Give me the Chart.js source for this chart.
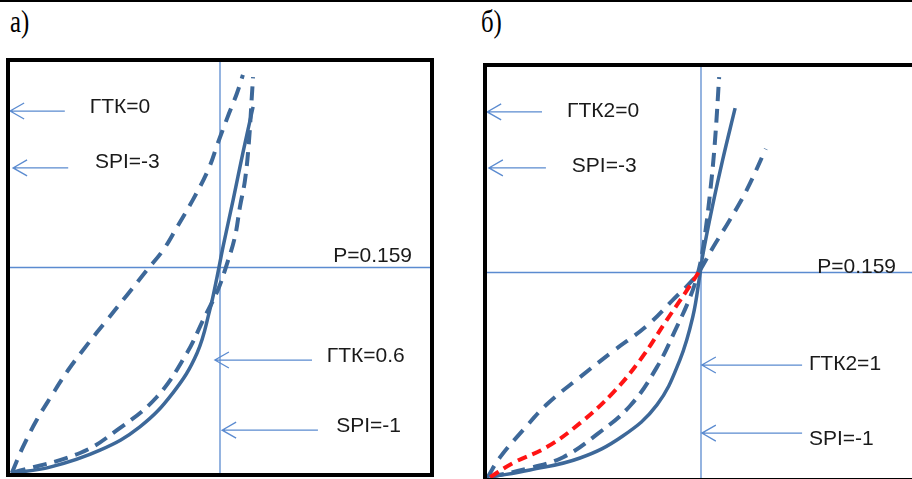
<!DOCTYPE html>
<html>
<head>
<meta charset="utf-8">
<script src="https://cdn.jsdelivr.net/npm/chart.js@4"></script>
<style>
html,body{margin:0;padding:0;background:#fff}
body{width:912px;height:479px;overflow:hidden;position:relative}
#topline{position:absolute;left:0;top:0;width:912px;height:2px;background:#000}
.tag{position:absolute;font-family:"Liberation Serif",serif;font-size:31px;line-height:1;color:#000;transform:scaleX(0.8);transform-origin:left top}
canvas{position:absolute}
</style>
</head>
<body>
<div id="topline"></div>
<div class="tag" style="left:10px;top:6px">а)</div>
<div class="tag" style="left:481px;top:6px">б)</div>
<canvas id="chartA" width="445" height="435" style="left:0;top:50px"></canvas>
<canvas id="chartB" width="460" height="435" style="left:475px;top:55px"></canvas>
<script>
// panel a) curves (plot box = 0..100 both ways)
let aSolidX = [0.9, 9.9, 21.7, 31.1, 38.9, 44.6, 47.6, 49.3, 50.7, 53.1, 55.4, 57.8]
let aSolidY = [0.5, 1.9, 6.0, 11.6, 19.8, 29.4, 39.8, 47.7, 54.9, 66.3, 77.6, 88.7]
let aDashX = [0.9, 17.0, 25.7, 35.1, 42.2, 46.0, 49.5, 51.4, 53.5, 54.7, 55.9, 56.8, 57.5, 57.8]
let aDashY = [0.5, 5.3, 10.8, 18.8, 29.4, 37.3, 44.6, 50.1, 57.3, 64.6, 71.1, 80.0, 91.1, 95.9]
let aWideX = [0.9, 3.5, 6.8, 10.4, 14.2, 18.6, 23.3, 28.1, 32.8, 36.6, 39.9, 43.6, 47.2, 49.5, 51.7, 54.0, 55.4]
let aWideY = [0.5, 6.7, 13.3, 19.3, 25.3, 31.3, 37.3, 43.4, 49.4, 54.2, 59.8, 66.3, 73.5, 80.0, 86.0, 92.0, 96.4]

// panel б) curves
let bSolidX = [1.2, 10.4, 22.0, 31.9, 39.8, 45.1, 48.1, 49.8, 50.5, 52.8, 55.0, 57.9]
let bSolidY = [0.7, 2.4, 5.3, 10.6, 18.1, 28.9, 39.3, 49.9, 54.7, 66.7, 77.1, 89.6]
let bSteepX = [1.2, 10.4, 18.1, 25.9, 33.6, 39.8, 44.4, 47.5, 49.3, 50.5, 52.1, 53.2, 54.2]
let bSteepY = [0.7, 2.9, 5.5, 11.0, 17.9, 27.2, 36.9, 44.1, 49.9, 56.1, 69.2, 81.2, 97.1]
let bFlatX = [0.5, 3.5, 8.8, 14.4, 22.0, 29.6, 37.5, 43.5, 48.1, 49.8, 52.8, 56.7, 60.6, 65.0]
let bFlatY = [0.5, 5.5, 12.0, 18.3, 24.8, 31.0, 37.2, 43.4, 48.2, 50.6, 56.1, 62.7, 69.9, 79.8]
let bRedX = [1.2, 6.5, 14.4, 22.0, 29.6, 35.9, 42.1, 46.8, 49.8]
let bRedY = [0.7, 4.1, 8.0, 13.7, 21.0, 28.9, 38.6, 45.8, 50.6]

// reference level lines
let refX = 50
let refY = 50

let labelsA = ["ГТК=0", "SPI=-3", "P=0.159", "ГТК=0.6", "SPI=-1"]
let labelsB = ["ГТК2=0", "SPI=-3", "P=0.159", "ГТК2=1", "SPI=-1"]

const blue = "#3d6899"
const thin = "#5b8bd0"

function pts(xs, ys){
  return xs.map((x,i)=>({x:x, y:ys[i]}))
}

function curve(xs, ys, color, dash, width){
  return {
    data: pts(xs, ys),
    borderColor: color,
    borderWidth: width,
    borderDash: dash,
    pointRadius: 0,
    fill: false,
    tension: 0.4,
    borderCapStyle: "butt"
  }
}

function refLines(){
  return [
    {data:[{x:refX,y:0},{x:refX,y:100}], borderColor:thin, borderWidth:1.3, pointRadius:0, order:10},
    {data:[{x:0,y:refY},{x:100,y:refY}], borderColor:thin, borderWidth:1.3, pointRadius:0, order:10}
  ]
}

// frame, arrows and text notes
const notes = {
  id: "notes",
  afterDatasetsDraw(chart, args, o){
    let ctx = chart.ctx
    let xs = chart.scales.x, ys = chart.scales.y
    let a = chart.chartArea
    ctx.save()
    ctx.strokeStyle = thin
    ctx.lineWidth = 1.3
    o.arrows.forEach(r=>{
      let x0 = xs.getPixelForValue(r[0]), x1 = xs.getPixelForValue(r[1]), y = ys.getPixelForValue(r[2])
      ctx.beginPath()
      ctx.moveTo(x0, y); ctx.lineTo(x1, y)
      ctx.moveTo(x1+14, y-8); ctx.lineTo(x1, y); ctx.lineTo(x1+14, y+8)
      ctx.stroke()
    })
    ctx.fillStyle = "#1a1a1a"
    ctx.font = "21px 'Liberation Sans'"
    ctx.textBaseline = "alphabetic"
    o.texts.forEach((t,i)=>{
      ctx.fillText(o.labels[i], xs.getPixelForValue(t[0]), ys.getPixelForValue(t[1]))
    })
    ctx.strokeStyle = "#000"
    ctx.lineWidth = 4
    ctx.strokeRect(a.left, a.top, a.right-a.left, a.bottom-a.top)
    ctx.restore()
  }
}

function makeChart(id, sets, pad, labels, texts, arrows){
  return new Chart(document.getElementById(id), {
    type: "line",
    data: {datasets: sets.concat(refLines())},
    options: {
      responsive: false,
      animation: false,
      devicePixelRatio: 1,
      layout: {padding: pad},
      plugins: {legend:{display:false}, tooltip:{enabled:false}, notes:{labels:labels, texts:texts, arrows:arrows}},
      scales: {
        x: {type:"linear", min:0, max:100, display:false},
        y: {type:"linear", min:0, max:100, display:false}
      }
    },
    plugins: [notes]
  })
}

makeChart("chartA", [
  curve(aSolidX, aSolidY, blue, [], 3.5),
  curve(aDashX, aDashY, blue, [14, 8], 4),
  curve(aWideX, aWideY, blue, [14, 9], 4)
], {left:8, top:10, right:13, bottom:10}, labelsA,
  [[19.3, 87.2], [20.5, 74.0], [76.7, 51.3], [75.2, 27.2], [77.4, 10.4]],
  [[13.4, 0.5, 87.7], [14.2, 1.2, 74.0], [71.7, 48.8, 27.7], [73.1, 50.5, 10.8]])

makeChart("chartB", [
  curve(bRedX, bRedY, "#ff1414", [10, 6], 4),
  curve(bSolidX, bSolidY, blue, [], 3.5),
  curve(bSteepX, bSteepY, blue, [14, 8], 4),
  curve(bFlatX, bFlatY, blue, [14, 9], 4)
], {left:10, top:10, right:18, bottom:10}, labelsB,
  [[19.0, 87.5], [20.1, 74.2], [76.9, 49.9], [75.0, 26.5], [75.0, 8.4]],
  [[13.2, 0.5, 88.7], [14.1, 0.9, 75.2], [73.4, 50.2, 27.7], [73.4, 50.2, 11.3]])
</script>
</body>
</html>
